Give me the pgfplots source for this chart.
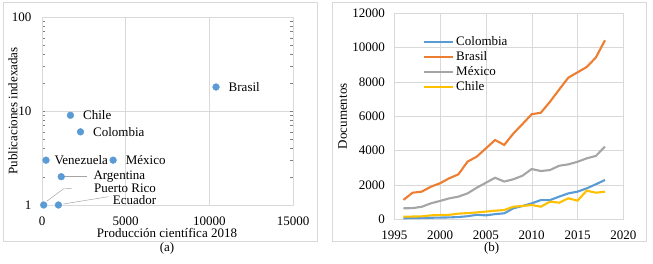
\documentclass[border=0pt]{standalone}
\usepackage{fontspec}
\setmainfont{Liberation Serif}
\usepackage{pgfplots}
\pgfplotsset{compat=1.18}
\usepackage{pgfplotstable}
\definecolor{azul}{HTML}{5B9BD5}
\definecolor{naranja}{HTML}{ED7D31}
\definecolor{gris}{HTML}{A5A5A5}
\definecolor{amarillo}{HTML}{FFC000}
\definecolor{rejilla}{HTML}{D9D9D9}
\definecolor{marco}{HTML}{D9D9D9}

% produccion 2018 vs publicaciones indexadas
\pgfplotstableread{
x y
10400 18
1700 9
2300 6
240 3
4250 3
1150 2
100 1
980 1
}\dispersion

% documentos por ano
\pgfplotstableread{
anio col bra mex chi
1996 60 1130 640 150
1997 70 1550 650 160
1998 80 1610 730 170
1999 90 1900 930 230
2000 100 2100 1070 250
2001 110 2390 1220 260
2002 130 2620 1320 330
2003 180 3360 1510 360
2004 260 3650 1840 400
2005 230 4130 2130 450
2006 300 4620 2420 500
2007 350 4330 2200 540
2008 640 5000 2330 734
2009 775 5550 2540 775
2010 930 6120 2930 833
2011 1120 6210 2810 734
2012 1120 6850 2870 1025
2013 1320 7560 3120 967
2014 1510 8250 3200 1223
2015 1610 8560 3350 1083
2016 1800 8870 3550 1666
2017 2040 9420 3690 1550
2018 2290 10430 4230 1608
}\documentos

\pgfplotsset{
  every axis/.append style={
    scale only axis,
    anchor=south west,
    axis line style={draw=rejilla},
    grid=major,
    major grid style={draw=rejilla},
    major tick length=0pt,
    scaled ticks=false,
    /pgf/number format/assume math mode=true,
    /pgf/number format/1000 sep={},
    xticklabel style={inner sep=0pt, anchor=north, yshift=-11.5pt},
    yticklabel style={inner sep=0pt, anchor=east},
  },
}

\begin{document}
\fontsize{13}{15}\selectfont
\begin{tikzpicture}[x=1pt,y=1pt]
\useasboundingbox (0,0) rectangle (653,264);
\draw[marco] (3,262) rectangle (317.5,22.5);
\draw[marco] (331.7,262) rectangle (646,22.5);

\begin{axis}[
    at={(42pt,59pt)}, width=251pt, height=188pt,
    xmin=0, xmax=15000, ymode=log, ymin=1, ymax=100,
    xtick={0,5000,10000,15000},
    ytick={1,10,100}, yticklabels={1,10,100},
    yticklabel style={xshift=-10.5pt},
    xlabel={Producción científica 2018},
    ylabel={Publicaciones indexadas},
    xlabel style={at={(axis description cs:0.498,-0.149)}, anchor=center},
    ylabel style={at={(axis description cs:-0.1155,0.5)}, anchor=center},
]
\addplot[only marks, mark=*, mark size=3.4pt, color=azul] table[x=x,y=y] {\dispersion};
\begin{scope}[every node/.style={anchor=west, inner sep=0pt}]
\node[xshift=12.5pt] at (axis cs:10400,18) {Brasil};
\node[xshift=12.5pt] at (axis cs:1700,9) {Chile};
\node[xshift=12.5pt] at (axis cs:2300,6) {Colombia};
\node[xshift=8.3pt] at (axis cs:240,3) {Venezuela};
\node[xshift=12.5pt] at (axis cs:4250,3) {México};
\node at (axis cs:3066,2) {Argentina};
\node at (axis cs:3108,1.49) {Puerto Rico};
\node at (axis cs:4225,1.13) {Ecuador};
\end{scope}
\draw[gris, line width=0.5pt] (axis cs:1273,2) -- (axis cs:2707,2);
\draw[gris, line width=0.5pt] (axis cs:281,1.095) -- (axis cs:1273,1.48) -- (axis cs:1775,1.505);
\draw[gris, line width=0.5pt] (axis cs:1273,1.025) -- (axis cs:3962,1.225);
\end{axis}

\begin{axis}[
    at={(394.3pt,44.7pt)}, width=229pt, height=206pt,
    xmin=1995, xmax=2020, ymin=0, ymax=12000,
    xtick={1995,2000,...,2020},
    ytick={0,2000,...,12000},
    yticklabel style={xshift=-9.3pt},
    ylabel={Documentos},
    ylabel style={at={(axis description cs:-0.225,0.5)}, anchor=center},
    legend style={at={(0.125,0.89)}, anchor=north west, draw=none, fill=none,
      inner sep=0pt, row sep=3.5pt,
      nodes={inner xsep=1.5pt, inner ysep=0pt, text height=9pt, text depth=2.5pt}},
    legend cell align=left,
    legend image code/.code={\draw[#1, line width=2.6pt] (0pt,0pt) -- (29pt,0pt);},
    every axis plot/.append style={line width=2.1pt, no markers},
]
\addplot[azul] table[x=anio,y=col] {\documentos};
\addplot[naranja] table[x=anio,y=bra] {\documentos};
\addplot[gris] table[x=anio,y=mex] {\documentos};
\addplot[amarillo] table[x=anio,y=chi] {\documentos};
\legend{Colombia,Brasil,México,Chile}
\end{axis}

\node at (167,16) {(a)};
\node at (491.7,16) {(b)};
\end{tikzpicture}
\end{document}
